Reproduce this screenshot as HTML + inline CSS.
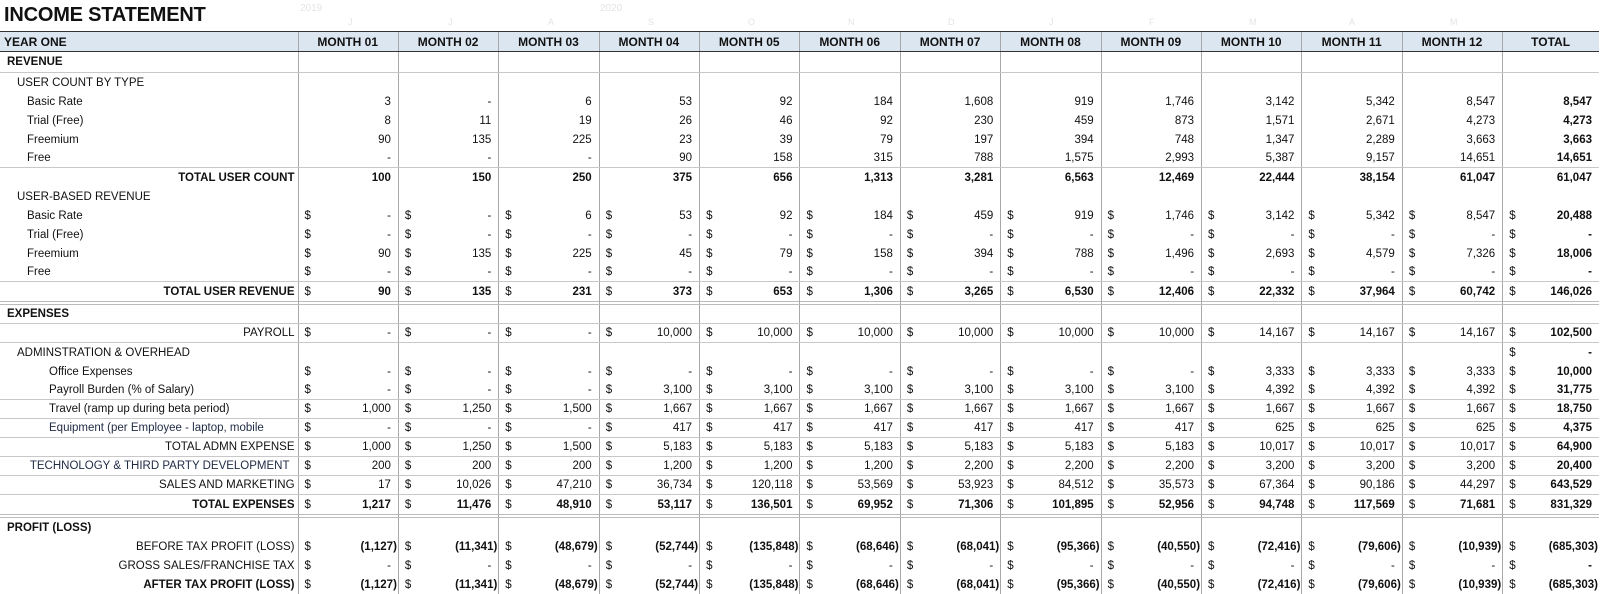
<!DOCTYPE html>
<html><head><meta charset="utf-8"><style>
body{margin:0;width:1600px;height:593px;background:#fff;overflow:hidden;position:relative;font-family:"Liberation Sans",Arial,sans-serif;color:#111}
.title{position:absolute;left:4px;top:4px;font-size:20px;font-weight:bold;letter-spacing:-0.2px}
.yr{position:absolute;top:3px;font-size:10px;color:#e4e4e4}
.lt{position:absolute;top:17px;font-size:9px;color:#e4e4e4}
table{position:absolute;left:0;top:31px;border-collapse:collapse;table-layout:fixed;width:1599px;font-size:11.5px}
td{padding:0 7px 0 6px;height:19px;white-space:nowrap;text-align:right;border-left:1px solid #a8a8a8;vertical-align:middle;overflow:hidden}
td:first-child{border-left:none;text-align:left;overflow:visible}
td s{float:left;text-decoration:none;font-weight:normal}
tr.h td{height:19px;background:#dce6f1;font-weight:bold;text-align:center;border-top:1.5px solid #333;border-bottom:1.5px solid #333;font-size:12px}
tr.h td:first-child{text-align:left;padding-left:4px}
tr.bl td{border-bottom:1px solid #c8c8c8;height:18px}
tr.t td{font-weight:bold}
tr.g td{height:2px;padding:0;border-top:1px solid #bbb;border-bottom:1px solid #bbb}
td.ng{padding-right:1px}
td.l0{padding-left:7px;font-weight:bold}
td.l1{padding-left:17px}
td.l2{padding-left:27px}
td.l3{padding-left:49px}
td.r{text-align:right;padding-right:3px}
td.r8{text-align:right;padding-right:8px}
td:last-child{font-weight:bold}
</style></head><body>
<div class="title">INCOME STATEMENT</div>
<div class="yr" style="left:300px">2019</div>
<div class="yr" style="left:600px">2020</div>
<div class="lt" style="left:348px">J</div><div class="lt" style="left:448px">J</div><div class="lt" style="left:548px">A</div><div class="lt" style="left:648px">S</div><div class="lt" style="left:748px">O</div><div class="lt" style="left:848px">N</div><div class="lt" style="left:948px">D</div><div class="lt" style="left:1049px">J</div><div class="lt" style="left:1149px">F</div><div class="lt" style="left:1249px">M</div><div class="lt" style="left:1349px">A</div><div class="lt" style="left:1450px">M</div>
<table>
<colgroup><col style="width:298px"><col style="width:100.4px"><col style="width:100.4px"><col style="width:100.4px"><col style="width:100.4px"><col style="width:100.4px"><col style="width:100.4px"><col style="width:100.4px"><col style="width:100.4px"><col style="width:100.4px"><col style="width:100.4px"><col style="width:100.4px"><col style="width:100.4px"><col style="width:96.2px"></colgroup>
<tr class="h"><td>YEAR ONE</td><td>MONTH 01</td><td>MONTH 02</td><td>MONTH 03</td><td>MONTH 04</td><td>MONTH 05</td><td>MONTH 06</td><td>MONTH 07</td><td>MONTH 08</td><td>MONTH 09</td><td>MONTH 10</td><td>MONTH 11</td><td>MONTH 12</td><td>TOTAL</td></tr>
<tr class="bl"><td class="l0" style="height:20px">REVENUE</td><td></td><td></td><td></td><td></td><td></td><td></td><td></td><td></td><td></td><td></td><td></td><td></td><td></td></tr>
<tr><td class="l1">USER COUNT BY TYPE</td><td></td><td></td><td></td><td></td><td></td><td></td><td></td><td></td><td></td><td></td><td></td><td></td><td></td></tr>
<tr><td class="l2">Basic Rate</td><td>3</td><td>-</td><td>6</td><td>53</td><td>92</td><td>184</td><td>1,608</td><td>919</td><td>1,746</td><td>3,142</td><td>5,342</td><td>8,547</td><td>8,547</td></tr>
<tr><td class="l2">Trial (Free)</td><td>8</td><td>11</td><td>19</td><td>26</td><td>46</td><td>92</td><td>230</td><td>459</td><td>873</td><td>1,571</td><td>2,671</td><td>4,273</td><td>4,273</td></tr>
<tr><td class="l2">Freemium</td><td>90</td><td>135</td><td>225</td><td>23</td><td>39</td><td>79</td><td>197</td><td>394</td><td>748</td><td>1,347</td><td>2,289</td><td>3,663</td><td>3,663</td></tr>
<tr class="bl"><td class="l2">Free</td><td>-</td><td>-</td><td>-</td><td>90</td><td>158</td><td>315</td><td>788</td><td>1,575</td><td>2,993</td><td>5,387</td><td>9,157</td><td>14,651</td><td>14,651</td></tr>
<tr class="t"><td class="r">TOTAL USER COUNT</td><td>100</td><td>150</td><td>250</td><td>375</td><td>656</td><td>1,313</td><td>3,281</td><td>6,563</td><td>12,469</td><td>22,444</td><td>38,154</td><td>61,047</td><td>61,047</td></tr>
<tr><td class="l1">USER-BASED REVENUE</td><td></td><td></td><td></td><td></td><td></td><td></td><td></td><td></td><td></td><td></td><td></td><td></td><td></td></tr>
<tr><td class="l2">Basic Rate</td><td><s>$</s>-</td><td><s>$</s>-</td><td><s>$</s>6</td><td><s>$</s>53</td><td><s>$</s>92</td><td><s>$</s>184</td><td><s>$</s>459</td><td><s>$</s>919</td><td><s>$</s>1,746</td><td><s>$</s>3,142</td><td><s>$</s>5,342</td><td><s>$</s>8,547</td><td><s>$</s>20,488</td></tr>
<tr><td class="l2">Trial (Free)</td><td><s>$</s>-</td><td><s>$</s>-</td><td><s>$</s>-</td><td><s>$</s>-</td><td><s>$</s>-</td><td><s>$</s>-</td><td><s>$</s>-</td><td><s>$</s>-</td><td><s>$</s>-</td><td><s>$</s>-</td><td><s>$</s>-</td><td><s>$</s>-</td><td><s>$</s>-</td></tr>
<tr><td class="l2">Freemium</td><td><s>$</s>90</td><td><s>$</s>135</td><td><s>$</s>225</td><td><s>$</s>45</td><td><s>$</s>79</td><td><s>$</s>158</td><td><s>$</s>394</td><td><s>$</s>788</td><td><s>$</s>1,496</td><td><s>$</s>2,693</td><td><s>$</s>4,579</td><td><s>$</s>7,326</td><td><s>$</s>18,006</td></tr>
<tr class="bl"><td class="l2">Free</td><td><s>$</s>-</td><td><s>$</s>-</td><td><s>$</s>-</td><td><s>$</s>-</td><td><s>$</s>-</td><td><s>$</s>-</td><td><s>$</s>-</td><td><s>$</s>-</td><td><s>$</s>-</td><td><s>$</s>-</td><td><s>$</s>-</td><td><s>$</s>-</td><td><s>$</s>-</td></tr>
<tr class="t"><td class="r">TOTAL USER REVENUE</td><td><s>$</s>90</td><td><s>$</s>135</td><td><s>$</s>231</td><td><s>$</s>373</td><td><s>$</s>653</td><td><s>$</s>1,306</td><td><s>$</s>3,265</td><td><s>$</s>6,530</td><td><s>$</s>12,406</td><td><s>$</s>22,332</td><td><s>$</s>37,964</td><td><s>$</s>60,742</td><td><s>$</s>146,026</td></tr>
<tr class="g"><td></td><td></td><td></td><td></td><td></td><td></td><td></td><td></td><td></td><td></td><td></td><td></td><td></td><td></td></tr>
<tr class="bl"><td class="l0">EXPENSES</td><td></td><td></td><td></td><td></td><td></td><td></td><td></td><td></td><td></td><td></td><td></td><td></td><td></td></tr>
<tr class="bl"><td class="r">PAYROLL</td><td><s>$</s>-</td><td><s>$</s>-</td><td><s>$</s>-</td><td><s>$</s>10,000</td><td><s>$</s>10,000</td><td><s>$</s>10,000</td><td><s>$</s>10,000</td><td><s>$</s>10,000</td><td><s>$</s>10,000</td><td><s>$</s>14,167</td><td><s>$</s>14,167</td><td><s>$</s>14,167</td><td><s>$</s>102,500</td></tr>
<tr><td class="l1">ADMINSTRATION &amp; OVERHEAD</td><td></td><td></td><td></td><td></td><td></td><td></td><td></td><td></td><td></td><td></td><td></td><td></td><td><s>$</s>-</td></tr>
<tr><td class="l3">Office Expenses</td><td><s>$</s>-</td><td><s>$</s>-</td><td><s>$</s>-</td><td><s>$</s>-</td><td><s>$</s>-</td><td><s>$</s>-</td><td><s>$</s>-</td><td><s>$</s>-</td><td><s>$</s>-</td><td><s>$</s>3,333</td><td><s>$</s>3,333</td><td><s>$</s>3,333</td><td><s>$</s>10,000</td></tr>
<tr class="bl"><td class="l3">Payroll Burden (% of Salary)</td><td><s>$</s>-</td><td><s>$</s>-</td><td><s>$</s>-</td><td><s>$</s>3,100</td><td><s>$</s>3,100</td><td><s>$</s>3,100</td><td><s>$</s>3,100</td><td><s>$</s>3,100</td><td><s>$</s>3,100</td><td><s>$</s>4,392</td><td><s>$</s>4,392</td><td><s>$</s>4,392</td><td><s>$</s>31,775</td></tr>
<tr class="bl"><td class="l3">Travel (ramp up during beta period)</td><td><s>$</s>1,000</td><td><s>$</s>1,250</td><td><s>$</s>1,500</td><td><s>$</s>1,667</td><td><s>$</s>1,667</td><td><s>$</s>1,667</td><td><s>$</s>1,667</td><td><s>$</s>1,667</td><td><s>$</s>1,667</td><td><s>$</s>1,667</td><td><s>$</s>1,667</td><td><s>$</s>1,667</td><td><s>$</s>18,750</td></tr>
<tr class="bl"><td class="l3" style="color:#1f2a44">Equipment (per Employee - laptop, mobile</td><td><s>$</s>-</td><td><s>$</s>-</td><td><s>$</s>-</td><td><s>$</s>417</td><td><s>$</s>417</td><td><s>$</s>417</td><td><s>$</s>417</td><td><s>$</s>417</td><td><s>$</s>417</td><td><s>$</s>625</td><td><s>$</s>625</td><td><s>$</s>625</td><td><s>$</s>4,375</td></tr>
<tr class="bl"><td class="r">TOTAL ADMN EXPENSE</td><td><s>$</s>1,000</td><td><s>$</s>1,250</td><td><s>$</s>1,500</td><td><s>$</s>5,183</td><td><s>$</s>5,183</td><td><s>$</s>5,183</td><td><s>$</s>5,183</td><td><s>$</s>5,183</td><td><s>$</s>5,183</td><td><s>$</s>10,017</td><td><s>$</s>10,017</td><td><s>$</s>10,017</td><td><s>$</s>64,900</td></tr>
<tr class="bl"><td class="r8" style="color:#1f2a44">TECHNOLOGY &amp; THIRD PARTY DEVELOPMENT</td><td><s>$</s>200</td><td><s>$</s>200</td><td><s>$</s>200</td><td><s>$</s>1,200</td><td><s>$</s>1,200</td><td><s>$</s>1,200</td><td><s>$</s>2,200</td><td><s>$</s>2,200</td><td><s>$</s>2,200</td><td><s>$</s>3,200</td><td><s>$</s>3,200</td><td><s>$</s>3,200</td><td><s>$</s>20,400</td></tr>
<tr class="bl"><td class="r">SALES AND MARKETING</td><td><s>$</s>17</td><td><s>$</s>10,026</td><td><s>$</s>47,210</td><td><s>$</s>36,734</td><td><s>$</s>120,118</td><td><s>$</s>53,569</td><td><s>$</s>53,923</td><td><s>$</s>84,512</td><td><s>$</s>35,573</td><td><s>$</s>67,364</td><td><s>$</s>90,186</td><td><s>$</s>44,297</td><td><s>$</s>643,529</td></tr>
<tr class="t"><td class="r">TOTAL EXPENSES</td><td><s>$</s>1,217</td><td><s>$</s>11,476</td><td><s>$</s>48,910</td><td><s>$</s>53,117</td><td><s>$</s>136,501</td><td><s>$</s>69,952</td><td><s>$</s>71,306</td><td><s>$</s>101,895</td><td><s>$</s>52,956</td><td><s>$</s>94,748</td><td><s>$</s>117,569</td><td><s>$</s>71,681</td><td><s>$</s>831,329</td></tr>
<tr class="g"><td></td><td></td><td></td><td></td><td></td><td></td><td></td><td></td><td></td><td></td><td></td><td></td><td></td><td></td></tr>
<tr><td class="l0">PROFIT (LOSS)</td><td></td><td></td><td></td><td></td><td></td><td></td><td></td><td></td><td></td><td></td><td></td><td></td><td></td></tr>
<tr class="t"><td class="r" style="font-weight:normal">BEFORE TAX PROFIT (LOSS)</td><td class="ng"><s>$</s>(1,127)</td><td class="ng"><s>$</s>(11,341)</td><td class="ng"><s>$</s>(48,679)</td><td class="ng"><s>$</s>(52,744)</td><td class="ng"><s>$</s>(135,848)</td><td class="ng"><s>$</s>(68,646)</td><td class="ng"><s>$</s>(68,041)</td><td class="ng"><s>$</s>(95,366)</td><td class="ng"><s>$</s>(40,550)</td><td class="ng"><s>$</s>(72,416)</td><td class="ng"><s>$</s>(79,606)</td><td class="ng"><s>$</s>(10,939)</td><td class="ng"><s>$</s>(685,303)</td></tr>
<tr><td class="r">GROSS SALES/FRANCHISE TAX</td><td><s>$</s>-</td><td><s>$</s>-</td><td><s>$</s>-</td><td><s>$</s>-</td><td><s>$</s>-</td><td><s>$</s>-</td><td><s>$</s>-</td><td><s>$</s>-</td><td><s>$</s>-</td><td><s>$</s>-</td><td><s>$</s>-</td><td><s>$</s>-</td><td><s>$</s>-</td></tr>
<tr class="t"><td class="r">AFTER TAX PROFIT (LOSS)</td><td class="ng"><s>$</s>(1,127)</td><td class="ng"><s>$</s>(11,341)</td><td class="ng"><s>$</s>(48,679)</td><td class="ng"><s>$</s>(52,744)</td><td class="ng"><s>$</s>(135,848)</td><td class="ng"><s>$</s>(68,646)</td><td class="ng"><s>$</s>(68,041)</td><td class="ng"><s>$</s>(95,366)</td><td class="ng"><s>$</s>(40,550)</td><td class="ng"><s>$</s>(72,416)</td><td class="ng"><s>$</s>(79,606)</td><td class="ng"><s>$</s>(10,939)</td><td class="ng"><s>$</s>(685,303)</td></tr>
</table>
</body></html>
